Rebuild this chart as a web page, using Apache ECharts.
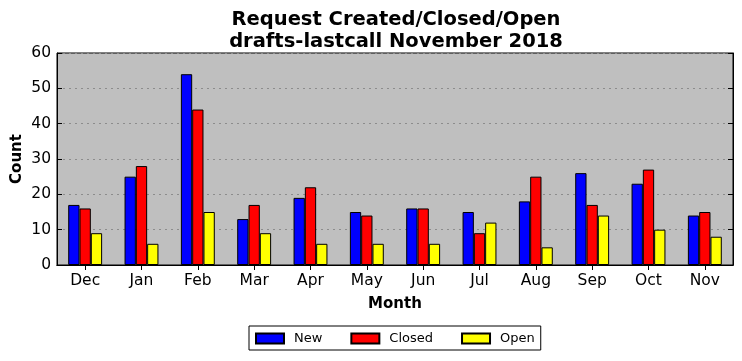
<!DOCTYPE html>
<html><head><meta charset="utf-8">
<script src="https://cdn.jsdelivr.net/npm/echarts@6/dist/echarts.min.js"></script>
<style>html,body{margin:0;padding:0;background:#fff}#c{width:742px;height:361px}</style>
</head><body><div id="c"></div>
<script>
const months = ['Dec','Jan','Feb','Mar','Apr','May','Jun','Jul','Aug','Sep','Oct','Nov'];
const newVals = [17,25,54,13,19,15,16,15,18,26,23,14];
const closedVals = [16,28,44,17,22,14,16,9,25,17,27,15];
const openVals = [9,6,15,9,6,6,6,12,5,14,10,8];
const F = 'DejaVu Sans';
const chart = echarts.init(document.getElementById('c'));
const barStyle = c => ({color:c, borderColor:'#000', borderWidth:1});
chart.setOption({
  animation:false,
  backgroundColor:'#fff',
  title:{text:'Request Created/Closed/Open\ndrafts-lastcall November 2018', left:391, top:4, textAlign:'center',
    textStyle:{fontFamily:F, fontSize:19.5, fontWeight:'bold', color:'#000', lineHeight:22}},
  grid:{left:57, right:9, top:53, bottom:96, show:true, backgroundColor:'#bfbfbf', borderColor:'#000', borderWidth:1,
    containLabel:false, outerBoundsMode:'none'},
  legend:{left:249, top:326, itemWidth:28, itemHeight:10, itemGap:28, padding:[6,6,5,6],
    borderColor:'#000', borderWidth:1, textStyle:{fontFamily:F, fontSize:13, color:'#000', padding:[0,0,0,5]},
    data:['New','Closed','Open'], icon:'rect'},
  xAxis:[{type:'category', data:months, position:'bottom', name:'Month', nameLocation:'middle', nameGap:32,
    nameTextStyle:{fontFamily:F, fontSize:15, fontWeight:'bold', color:'#000'},
    axisLine:{lineStyle:{color:'#000'}}, axisTick:{show:false},
    axisLabel:{fontFamily:F, fontSize:15.5, color:'#000', margin:8}, splitLine:{show:false}},
    {type:'category', data:months, position:'top', axisLine:{lineStyle:{color:'#000'}},
    axisTick:{show:true, inside:true, length:5, alignWithLabel:true, lineStyle:{color:'#000'}}, axisLabel:{show:false}}],
  yAxis:[{type:'value', min:0, max:60, interval:10, name:'Count', nameLocation:'middle', nameGap:32, nameMoveOverlap:false,
    nameTextStyle:{fontFamily:F, fontSize:15, fontWeight:'bold', color:'#000'},
    axisLine:{show:true, lineStyle:{color:'#000'}}, axisTick:{show:true, inside:true, length:5, lineStyle:{color:'#000'}},
    axisLabel:{fontFamily:F, fontSize:15.5, color:'#000', margin:6},
    splitLine:{show:true, lineStyle:{color:'#8c8c8c', type:[2,4], width:1}}},
    {type:'value', min:0, max:60, interval:10, position:'right', axisLine:{show:true, lineStyle:{color:'#000'}},
    axisTick:{show:true, inside:true, length:5, lineStyle:{color:'#000'}}, axisLabel:{show:false}, splitLine:{show:false}}],
  series:[
    {name:'New', type:'bar', data:newVals, itemStyle:barStyle('#0000ff'), barWidth:11.3, barGap:'0%', barCategoryGap:'40%'},
    {name:'Closed', type:'bar', data:closedVals, itemStyle:barStyle('#ff0000'), barWidth:11.3, barGap:'0%'},
    {name:'Open', type:'bar', data:openVals, itemStyle:barStyle('#ffff00'), barWidth:11.3, barGap:'0%'}
  ]
});
</script></body></html>
